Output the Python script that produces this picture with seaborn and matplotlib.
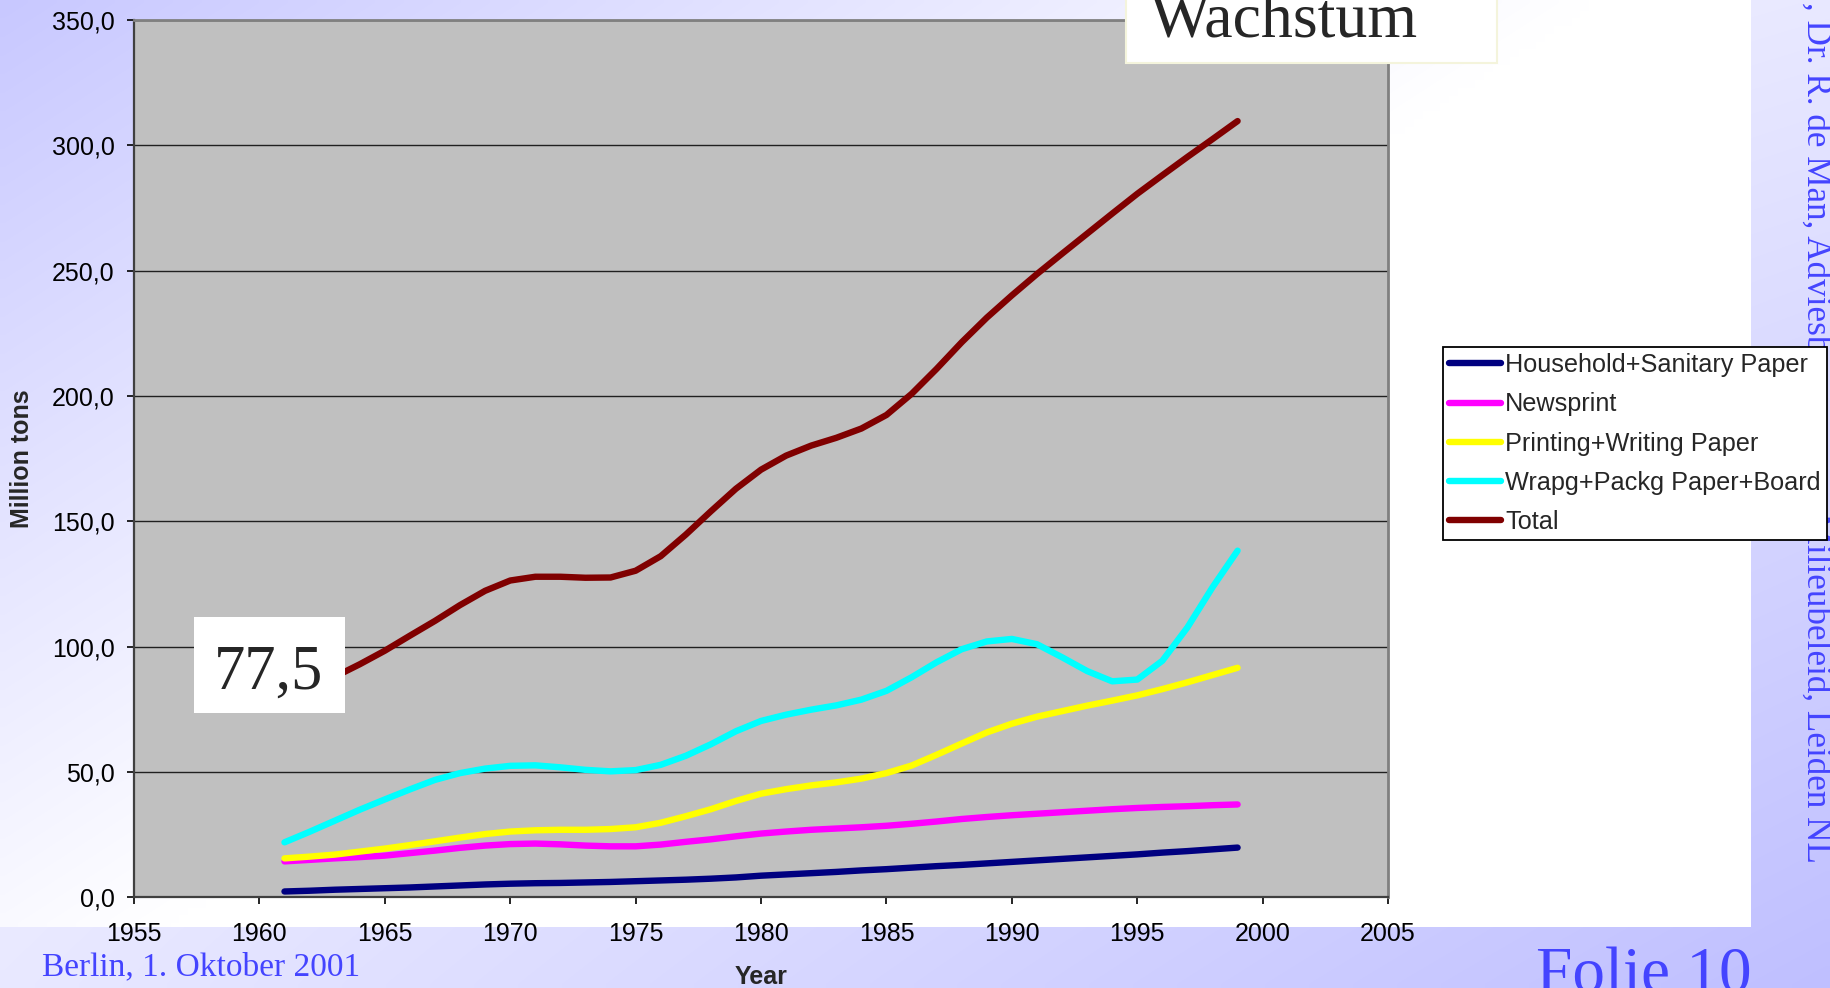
import numpy as np
import pandas as pd
import matplotlib
matplotlib.use("Agg")
import matplotlib.pyplot as plt
from matplotlib.patches import Rectangle
from matplotlib.ticker import FuncFormatter, MultipleLocator
import seaborn as sns

# world paper consumption (million tons)
years = list(range(1961, 2000))
household = [2.4, 2.7, 3.1, 3.4, 3.7, 4.0, 4.4, 4.8, 5.2, 5.5,
             5.7, 5.8, 6.0, 6.2, 6.5, 6.8, 7.1, 7.5, 8.0, 8.7,
             9.2, 9.7, 10.2, 10.8, 11.3, 11.9, 12.5, 13.0, 13.6, 14.2,
             14.8, 15.4, 16.0, 16.6, 17.2, 17.9, 18.5, 19.2, 19.9]
newsprint = [14.4, 15.0, 15.6, 16.1, 16.7, 17.7, 18.7, 19.8, 20.7, 21.3,
             21.5, 21.2, 20.7, 20.4, 20.4, 21.1, 22.2, 23.2, 24.4, 25.5,
             26.3, 27.0, 27.5, 28.0, 28.6, 29.4, 30.3, 31.3, 32.1, 32.8,
             33.4, 34.0, 34.6, 35.2, 35.7, 36.1, 36.4, 36.8, 37.1]
printing = [15.6, 16.3, 17.1, 18.3, 19.5, 20.9, 22.4, 23.9, 25.3, 26.3,
            26.8, 27.0, 27.0, 27.3, 28.0, 29.8, 32.4, 35.2, 38.5, 41.4,
            43.2, 44.7, 45.9, 47.4, 49.6, 52.6, 56.9, 61.4, 65.8, 69.3,
            72.1, 74.3, 76.5, 78.5, 80.6, 83.1, 85.8, 88.7, 91.6]
wrapping = [22.0, 26.2, 30.6, 35.0, 39.1, 43.1, 46.9, 49.6, 51.4, 52.5,
            52.7, 51.9, 50.9, 50.3, 50.8, 52.9, 56.5, 61.1, 66.3, 70.4,
            72.9, 74.9, 76.6, 78.9, 82.4, 87.8, 93.8, 99.0, 102.1, 103.1,
            101.0, 95.8, 90.3, 86.2, 86.9, 94.4, 107.7, 123.7, 138.3]
total = [77.5, 83.0, 88.0, 93.0, 98.4, 104.4, 110.3, 116.6, 122.3, 126.4,
         127.9, 127.9, 127.5, 127.6, 130.3, 136.1, 144.7, 154.0, 163.0, 170.6,
         176.2, 180.2, 183.3, 187.0, 192.4, 200.8, 210.8, 221.4, 231.2, 240.1,
         248.6, 256.7, 264.7, 272.7, 280.6, 288.0, 295.3, 302.4, 309.6]

series_names = ["Household+Sanitary Paper", "Newsprint", "Printing+Writing Paper",
                "Wrapg+Packg Paper+Board", "Total"]
series_colors = ["#000080", "#ff00ff", "#ffff00", "#00ffff", "#800000"]
start_label = "77,5"

df = pd.concat([
    pd.DataFrame({"Year": years, "Million tons": vals, "Series": name})
    for name, vals in zip(series_names, [household, newsprint, printing, wrapping, total])
])

sns.set_style("white")
plt.rcParams["font.family"] = ["Liberation Sans", "DejaVu Sans"]
serif = ["Liberation Serif", "DejaVu Serif"]
blue = "#4444ff"

fig = plt.figure(figsize=(18.3, 9.88), dpi=100)

# slide background + chart area gradients
bg = fig.add_axes([0, 0, 1, 1], zorder=-10)
bg.set_axis_off()
white = np.array([1.0, 1.0, 1.0])
xx, yy = np.meshgrid(np.linspace(0, 1, 200), np.linspace(0, 1, 120))
t = 0.35 * xx + 0.35 * yy + 0.3 * xx * yy
slide = white * (1 - t[..., None]) + np.array([0.75, 0.75, 1.0]) * t[..., None]
bg.imshow(slide, extent=[0, 1, 0, 1], origin="upper", aspect="auto", interpolation="bilinear")
chart_right, chart_bottom = 0.9568, 0.0617
s = np.clip(1.1 * xx + 0.9 * yy, 0, 1)
chart = np.array([0.785, 0.785, 1.0]) * (1 - s[..., None]) + white * s[..., None]
bg.imshow(chart, extent=[0, chart_right, chart_bottom, 1], origin="upper", aspect="auto",
          interpolation="bilinear")
bg.set_xlim(0, 1)
bg.set_ylim(0, 1)

ax = fig.add_axes([0.07322, 0.0916, 0.6853, 0.8884])
ax.set_facecolor("#c0c0c0")
sns.lineplot(data=df, x="Year", y="Million tons", hue="Series", hue_order=series_names,
             palette=dict(zip(series_names, series_colors)), lw=4.6, errorbar=None,
             legend=False, ax=ax, solid_capstyle="round", solid_joinstyle="round")

ax.set_xlim(1955, 2005)
ax.set_ylim(0, 350)
ax.xaxis.set_major_locator(MultipleLocator(5))
ax.yaxis.set_major_locator(MultipleLocator(50))
ax.yaxis.set_major_formatter(FuncFormatter(lambda v, p: f"{v:.1f}".replace(".", ",")))
ax.grid(axis="y", color="#202020", lw=1.0)
ax.grid(axis="x", visible=False)
ax.set_axisbelow(True)
ax.tick_params(axis="both", direction="out", length=5, width=1.2, labelsize=18,
               bottom=True, left=True, colors="black")
ax.tick_params(axis="x", pad=12.5)
ax.tick_params(axis="y", pad=9)
for side in ["left", "bottom"]:
    ax.spines[side].set_color("#404040")
    ax.spines[side].set_linewidth(1.6)
for side in ["top", "right"]:
    ax.spines[side].set_color("#808080")
    ax.spines[side].set_linewidth(2)
ax.set_xlabel("Year", fontsize=18, fontweight="bold", labelpad=14)
ax.set_ylabel("Million tons", fontsize=18, fontweight="bold", labelpad=13)

# text boxes
fig.patches.append(Rectangle((0.6151, 0.9362), 0.2030, 0.1, transform=fig.transFigure,
                             facecolor="white", edgecolor="#f4f4dc", lw=1.5, zorder=2))
fig.text(0.6285, 0.9629, "Wachstum", fontsize=46, family=serif, ha="left", va="baseline",
         zorder=3)
fig.patches.append(Rectangle((0.1060, 0.2787), 0.0825, 0.0969, transform=fig.transFigure,
                             facecolor="white", edgecolor="none", zorder=2))
fig.text(0.1470, 0.3033, start_label, fontsize=45, family=serif, ha="center", va="baseline",
         zorder=3)

# slide footer texts
fig.text(0.9923, 0.1265, ", Dr. R. de Man, Adviesbureau voor Milieubeleid, Leiden NL",
         rotation=270, fontsize=25.3, family=serif, color=blue, ha="center", va="bottom",
         zorder=3)
fig.text(0.0230, 0.0125, "Berlin, 1. Oktober 2001", fontsize=24, family=serif, color=blue,
         ha="left", va="baseline", zorder=3)
fig.text(0.8393, -0.005, "Folie 10", fontsize=47, family=serif, color=blue,
         ha="left", va="baseline", zorder=3)

leg = fig.legend(ax.get_lines()[:5], series_names, loc="upper left",
                 bbox_to_anchor=(0.7885, 0.6488), fontsize=18.2, frameon=True, fancybox=False,
                 edgecolor="black", facecolor="white", framealpha=1, borderpad=0.25,
                 labelspacing=0.6, handlelength=2.05, handletextpad=0.15, borderaxespad=0)
leg.get_frame().set_linewidth(1.3)
leg.set_zorder(6)

fig.savefig("out.png", dpi=100)
